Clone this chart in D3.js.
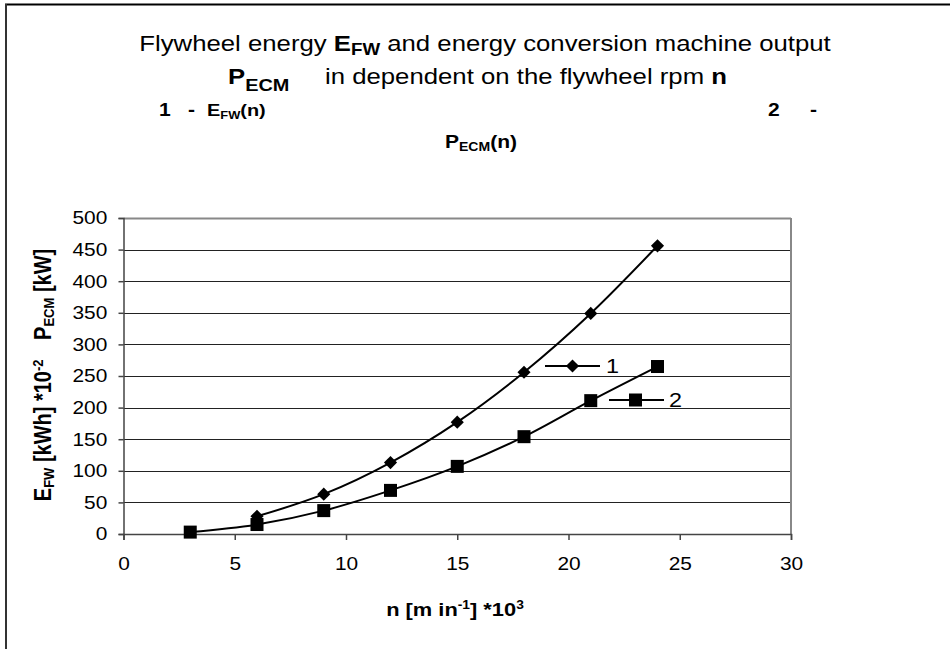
<!DOCTYPE html>
<html>
<head>
<meta charset="utf-8">
<script src="https://cdn.jsdelivr.net/npm/d3@7"></script>
<style>
  body { margin: 0; background: #fff; }
  svg { display: block; font-family: "Liberation Sans", Arial, sans-serif; }
</style>
</head>
<body>
<svg width="950" height="649"></svg>
<script>
// values
const rpm1 = [6, 9, 12, 15, 18, 21, 24];
const energy = [28, 63, 113, 177, 256, 349, 456];
const rpm2 = [3, 6, 9, 12, 15, 18, 21, 24];
const output = [3, 15, 37, 69, 107, 154, 211, 265];
const xTicks = [0, 5, 10, 15, 20, 25, 30];
const yTicks = [0, 50, 100, 150, 200, 250, 300, 350, 400, 450, 500];

const svg = d3.select("svg");
const SX = 1.17; // the original's lettering is stretched sideways

const x = d3.scaleLinear().domain([0, 30]).range([123.5, 791]);
const y = d3.scaleLinear().domain([0, 500]).range([534, 218]);

// outer frame
svg.append("line").attr("x1", 5).attr("x2", 950).attr("y1", 4.5).attr("y2", 4.5)
  .attr("stroke", "#000").attr("stroke-width", 2);
svg.append("line").attr("x1", 6).attr("x2", 6).attr("y1", 4).attr("y2", 649)
  .attr("stroke", "#333").attr("stroke-width", 2);

// grid
svg.append("g").selectAll("line").data(yTicks.slice(1)).join("line")
  .attr("x1", x(0)).attr("x2", x(30))
  .attr("y1", d => Math.round(y(d)) + 0.5).attr("y2", d => Math.round(y(d)) + 0.5)
  .attr("stroke", d => d === 500 ? "#888" : "#222").attr("stroke-width", d => d === 500 ? 2 : 1);
svg.append("line").attr("x1", x(30)).attr("x2", x(30)).attr("y1", y(500)).attr("y2", y(0))
  .attr("stroke", "#888").attr("stroke-width", 2);

const yAxis = svg.append("g").attr("transform", `translate(${x(0)},0)`)
  .call(d3.axisLeft(y).tickValues(yTicks).tickSize(5).tickPadding(9.3));
const xAxis = svg.append("g").attr("transform", `translate(0,${y(0)})`)
  .call(d3.axisBottom(x).tickValues(xTicks).tickSize(6).tickPadding(17));
[yAxis, xAxis].forEach(a => {
  a.select(".domain").attr("stroke", "#444").attr("stroke-width", 1.5);
  a.selectAll(".tick line").attr("stroke", "#444").attr("stroke-width", 1.5);
  a.selectAll("text").attr("font-size", 18.5).attr("fill", "#000")
    .attr("font-family", "Liberation Sans, Arial, sans-serif")
    .attr("transform", "scale(1.13,1)");
});

// series
const line = d3.line().curve(d3.curveCardinal.tension(0));
const pts1 = rpm1.map((n, i) => [x(n), y(energy[i])]);
const pts2 = rpm2.map((n, i) => [x(n), y(output[i])]);
svg.append("path").attr("d", line(pts1)).attr("fill", "none").attr("stroke", "#000").attr("stroke-width", 2);
svg.append("path").attr("d", line(pts2)).attr("fill", "none").attr("stroke", "#000").attr("stroke-width", 2);

const diamond = d3.symbol().type(d3.symbolDiamond2).size(110);
svg.append("g").selectAll("path").data(pts1).join("path")
  .attr("transform", d => `translate(${d[0]},${d[1]})`).attr("d", diamond).attr("fill", "#000");
svg.append("g").selectAll("rect").data(pts2).join("rect")
  .attr("x", d => d[0] - 6.5).attr("y", d => d[1] - 6.5).attr("width", 13).attr("height", 13).attr("fill", "#000");

// text helper: place text at (px,py) stretched sideways
function label(px, py, size, anchor, sx = SX) {
  return svg.append("text")
    .attr("transform", `translate(${px},${py}) scale(${sx},1)`)
    .attr("text-anchor", anchor || "start").attr("font-size", size);
}

// legend
svg.append("line").attr("x1", 545).attr("x2", 600).attr("y1", 366).attr("y2", 366).attr("stroke", "#000").attr("stroke-width", 2);
svg.append("path").attr("transform", "translate(572.5,366)").attr("d", diamond).attr("fill", "#000");
label(606, 372.5, 20).text("1");
svg.append("line").attr("x1", 609).attr("x2", 664).attr("y1", 400).attr("y2", 400).attr("stroke", "#000").attr("stroke-width", 2);
svg.append("rect").attr("x", 629).attr("y", 393.5).attr("width", 13).attr("height", 13).attr("fill", "#000");
label(669, 407, 20).text("2");

// titles
const t1 = label(485, 51, 22, "middle");
t1.append("tspan").text("Flywheel energy ");
t1.append("tspan").attr("font-weight", "bold").text("E");
t1.append("tspan").attr("font-weight", "bold").attr("font-size", 16).attr("dy", 4).text("FW");
t1.append("tspan").attr("dy", -4).text(" and energy conversion machine output");

const t2a = label(228, 84, 22);
t2a.append("tspan").attr("font-weight", "bold").text("P");
t2a.append("tspan").attr("font-weight", "bold").attr("font-size", 17).attr("dy", 7).text("ECM");
const t2b = label(325, 84, 22);
t2b.append("tspan").text("in dependent on the flywheel rpm ");
t2b.append("tspan").attr("font-weight", "bold").text("n");

label(159, 116, 18).attr("font-weight", "bold").text("1");
label(188, 116, 18).attr("font-weight", "bold").text("-");
const t3 = label(207, 116, 17).attr("font-weight", "bold");
t3.append("tspan").text("E");
t3.append("tspan").attr("font-size", 11).attr("dy", 3).text("FW");
t3.append("tspan").attr("dy", -3).text("(n)");
label(768, 116, 18).attr("font-weight", "bold").text("2");
label(810, 116, 18).attr("font-weight", "bold").text("-");

const t4 = label(481, 148, 18, "middle").attr("font-weight", "bold");
t4.append("tspan").text("P");
t4.append("tspan").attr("font-size", 12).attr("dy", 3).text("ECM");
t4.append("tspan").attr("dy", -3).text("(n)");

// axis titles
const xt = label(455, 616, 19, "middle", 1.15).attr("font-weight", "bold");
xt.append("tspan").text("n [m in");
xt.append("tspan").attr("font-size", 12).attr("dy", -7).text("-1");
xt.append("tspan").attr("dy", 7).text("] *10");
xt.append("tspan").attr("font-size", 12).attr("dy", -7).text("3");

const yt = svg.append("text").attr("transform", "translate(51,375) rotate(-90) scale(1,1.15)")
  .attr("text-anchor", "middle").attr("font-size", 20).attr("font-weight", "bold");
yt.append("tspan").text("E");
yt.append("tspan").attr("font-size", 13).attr("dy", 3).text("FW");
yt.append("tspan").attr("dy", -3).text(" [kWh] *10");
yt.append("tspan").attr("font-size", 13).attr("dy", -7).text("-2");
yt.append("tspan").attr("dy", 7).attr("dx", 14).text(" P");
yt.append("tspan").attr("font-size", 13).attr("dy", 3).text("ECM");
yt.append("tspan").attr("dy", -3).text(" [kW]");
</script>
</body>
</html>
